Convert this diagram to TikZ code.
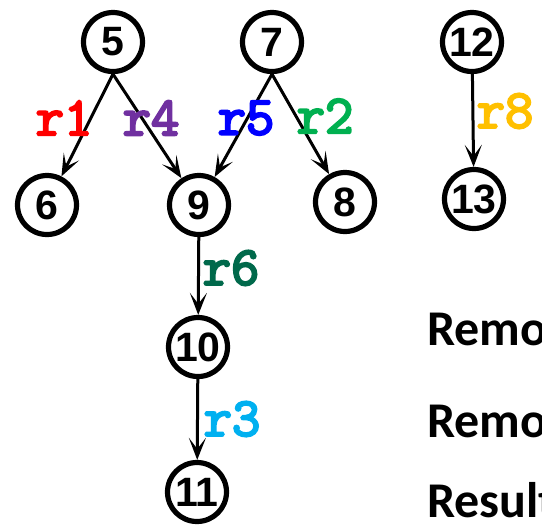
\documentclass[tikz,border=0pt]{standalone}
\usepackage{fontspec}
\usepackage{xcolor}
\usepackage{tikz}
\usetikzlibrary{arrows.meta}

\newfontfamily\numfont{Liberation Sans}
\newfontfamily\notefont{Carlito}
\newfontfamily\codefont{Latin Modern Mono}[BoldFont=Latin Modern Mono, BoldFeatures={FakeBold=4}]

\definecolor{rred}{HTML}{FF0000}
\definecolor{rpurple}{HTML}{7030A0}
\definecolor{rblue}{HTML}{0000FF}
\definecolor{rgreen}{HTML}{00B050}
\definecolor{rgold}{HTML}{FFC000}
\definecolor{rteal}{HTML}{00694B}
\definecolor{rsky}{HTML}{00B0F0}

\begin{document}
\begin{tikzpicture}[
  x=0.5pt, y=-0.5pt,
  num/.style={circle, draw, line width=2.6pt, minimum size=29.5pt, inner sep=0pt,
              font=\numfont\bfseries\fontsize{20.5}{20}\selectfont},
  lbl/.style={font=\codefont\bfseries\fontsize{27.5}{27}\selectfont},
  note/.style={anchor=base west, font=\notefont\bfseries\fontsize{25}{25}\selectfont},
  ar/.style={-{Stealth[length=11pt, width=8.5pt, inset=5.5pt]}, line width=1.5pt}
]
  \path[use as bounding box, clip] (0,0) rectangle (542,527);

  % top row
  \node[num] (n5) at (113,42) {5};
  \node[num] (n7) at (272,42) {7};
  \node[num] (n12) at (472,42) {12};
  % second row
  \node[num] (n6) at (47,205) {6};
  \node[num] (n9) at (199,205) {9};
  \node[num] (n8) at (345,202) {8};
  \node[num] (n13) at (474,199) {13};
  % chain below 9
  \node[num] (n10) at (198,347) {10};
  \node[num] (n11) at (197,492) {11};

  \draw[ar] (n5.south) -- (n6);
  \draw[ar] (n5.south) -- (n9);
  \draw[ar] (n7.south) -- (n9);
  \draw[ar] (n7.south) -- (n8);
  \draw[ar] (n12) -- (n13);
  \draw[ar] (n9) -- (n10);
  \draw[ar] (n10) -- (n11);

  % rule labels
  \node[lbl, text=rred] (l1) at (64,118) {r1};
  \node[lbl, text=rpurple] (l4) at (151,118) {r4};
  \node[lbl, text=rblue] (l5) at (246,118) {r5};
  \node[lbl, text=rgreen] (l2) at (325,116) {r2};
  \node[lbl, text=rgold] (l8) at (505,111) {r8};
  \node[lbl, text=rteal] (l6) at (231,268) {r6};
  \node[lbl, text=rsky] (l3) at (232,419) {r3};

  \node[note] (t1) at (420,345) {Remo};
  \node[note] (t2) at (420,437) {Remo};
  \node[note] (t3) at (420,517) {Result};
\end{tikzpicture}
\end{document}
